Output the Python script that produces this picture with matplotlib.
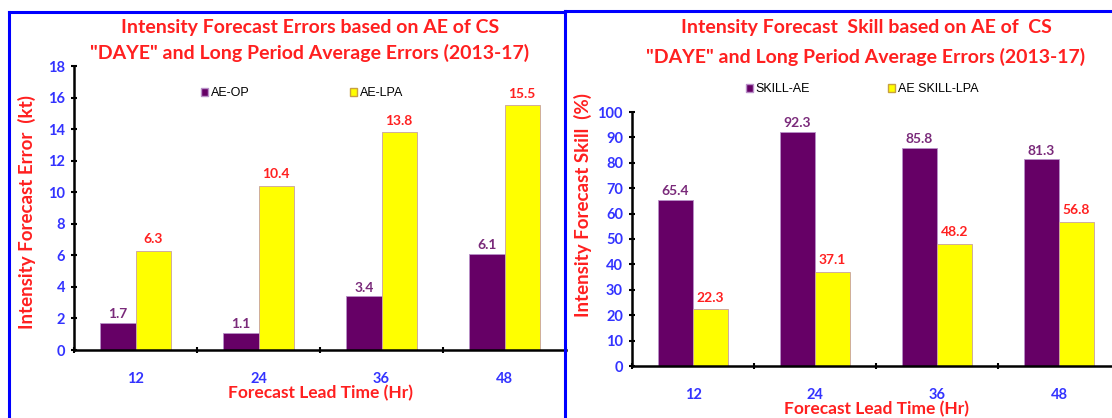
import numpy as np
import matplotlib.pyplot as plt
from matplotlib.lines import Line2D
from matplotlib.patches import Patch

# data
lead_times = ["12", "24", "36", "48"]
ae_op = [1.7, 1.1, 3.4, 6.1]
ae_lpa = [6.3, 10.4, 13.8, 15.5]
skill_ae = [65.4, 92.3, 85.8, 81.3]
skill_lpa = [22.3, 37.1, 48.2, 56.8]

W, H = 1112, 418
PURPLE = "#660066"
YELLOW = "#FFFF00"
BLUE = "#3333FF"
RED = "#FF2020"
FONT = "Lato"

fig = plt.figure(figsize=(W / 100, H / 100), dpi=100)
fig.patch.set_facecolor("white")


def px_axes(x0, y_top, x1, y_bot):
    return fig.add_axes([x0 / W, 1 - y_bot / H, (x1 - x0) / W, (y_bot - y_top) / H])


def draw_panel(ax, box, s1, s2, names, ymax, ystep, ylabel, ylab_px, leg_anchor, colspace):
    x = np.arange(len(lead_times))
    w = 0.285
    b1 = ax.bar(x - w / 2, s1, w, color=PURPLE, edgecolor="#B890C8", lw=0.6, label=names[0])
    b2 = ax.bar(x + w / 2, s2, w, color=YELLOW, edgecolor="#C8A0A0", lw=0.6, label=names[1])
    ax.bar_label(b1, fmt="%.1f", padding=2, color="#7A2A7A", fontsize=10,
                 fontweight="bold", family=FONT)
    ax.bar_label(b2, fmt="%.1f", padding=4, color=RED, fontsize=10,
                 fontweight="bold", family=FONT)

    ax.set_xlim(-0.5, len(lead_times) - 0.5)
    ax.set_ylim(0, ymax)
    ax.set_yticks(np.arange(0, ymax + 1, ystep))
    ax.set_xticks(x)
    ax.set_xticklabels(lead_times)
    ax.set_xticks(np.arange(-0.5, len(lead_times), 1), minor=True)
    ax.tick_params(axis="x", which="major", length=0, pad=16)
    ax.tick_params(axis="x", which="minor", length=5, width=1.5, direction="inout")
    ax.tick_params(axis="y", length=5, width=1.5, direction="inout", pad=4)
    for lab in ax.get_xticklabels() + ax.get_yticklabels():
        lab.set_color(BLUE)
        lab.set_fontweight("bold")
        lab.set_family(FONT)
        lab.set_fontsize(10.5)
    for side in ["top", "right"]:
        ax.spines[side].set_visible(False)
    for side in ["left", "bottom"]:
        ax.spines[side].set_linewidth(1.8)
    ax.set_xlabel("Forecast Lead Time (Hr)", color=RED, fontsize=12.5,
                  fontweight="bold", family=FONT, labelpad=-1)
    ax.set_ylabel(ylabel, color=RED, fontsize=13.5, fontweight="bold", family=FONT)
    # place y label at pixel position (x, y center)
    x0, y_top, x1, y_bot = box
    ax.yaxis.set_label_coords((ylab_px[0] - x0) / (x1 - x0),
                              (y_bot - ylab_px[1]) / (y_bot - y_top))
    ax.legend(handles=[Patch(facecolor=PURPLE, edgecolor="#B890C8"),
                       Patch(facecolor=YELLOW, edgecolor="#C8A040")],
              labels=names, ncol=2, frameon=False, loc="center left",
              bbox_to_anchor=leg_anchor, handlelength=0.6, handleheight=0.6,
              handletextpad=0.2, columnspacing=colspace,
              prop={"family": "Liberation Sans", "size": 9})
    return ax


box1 = (74, 66, 566, 350)
ax1 = px_axes(*box1)
draw_panel(ax1, box1, ae_op, ae_lpa, ["AE-OP", "AE-LPA"], 18, 2,
           "Intensity Forecast Error  (kt)", (36, 212), (0.235, 0.905), 8.0)

box2 = (632, 112, 1120, 366)
ax2 = px_axes(*box2)
draw_panel(ax2, box2, skill_ae, skill_lpa, ["SKILL-AE", "AE SKILL-LPA"], 100, 10,
           "Intensity Forecast Skill  (%)", (592, 205), (0.21, 1.09), 6.2)

fig.text(310 / W, 1 - 27 / H, "Intensity Forecast Errors based on AE of CS",
         ha="center", va="center", color=RED, fontsize=14, fontweight="bold", family=FONT)
fig.text(310 / W, 1 - 53 / H, "\"DAYE\" and Long Period Average Errors (2013-17)",
         ha="center", va="center", color=RED, fontsize=14, fontweight="bold", family=FONT)
fig.text(866 / W, 1 - 27 / H, "Intensity Forecast  Skill based on AE of  CS",
         ha="center", va="center", color=RED, fontsize=14, fontweight="bold", family=FONT)
fig.text(866 / W, 1 - 57 / H, "\"DAYE\" and Long Period Average Errors (2013-17)",
         ha="center", va="center", color=RED, fontsize=14, fontweight="bold", family=FONT)

# blue panel borders
border = dict(color="#0000FF", lw=2.2, transform=fig.transFigure)
fig.add_artist(Line2D([9 / W, 9 / W], [0, 1 - 12 / H], **border))
fig.add_artist(Line2D([9 / W, 565 / W], [1 - 12 / H, 1 - 12 / H], **border))
fig.add_artist(Line2D([565 / W, 565 / W], [0, 1 - 11 / H], **border))
fig.add_artist(Line2D([565 / W, 1], [1 - 11 / H, 1 - 11 / H], **border))

fig.savefig("out.png", dpi=100)
